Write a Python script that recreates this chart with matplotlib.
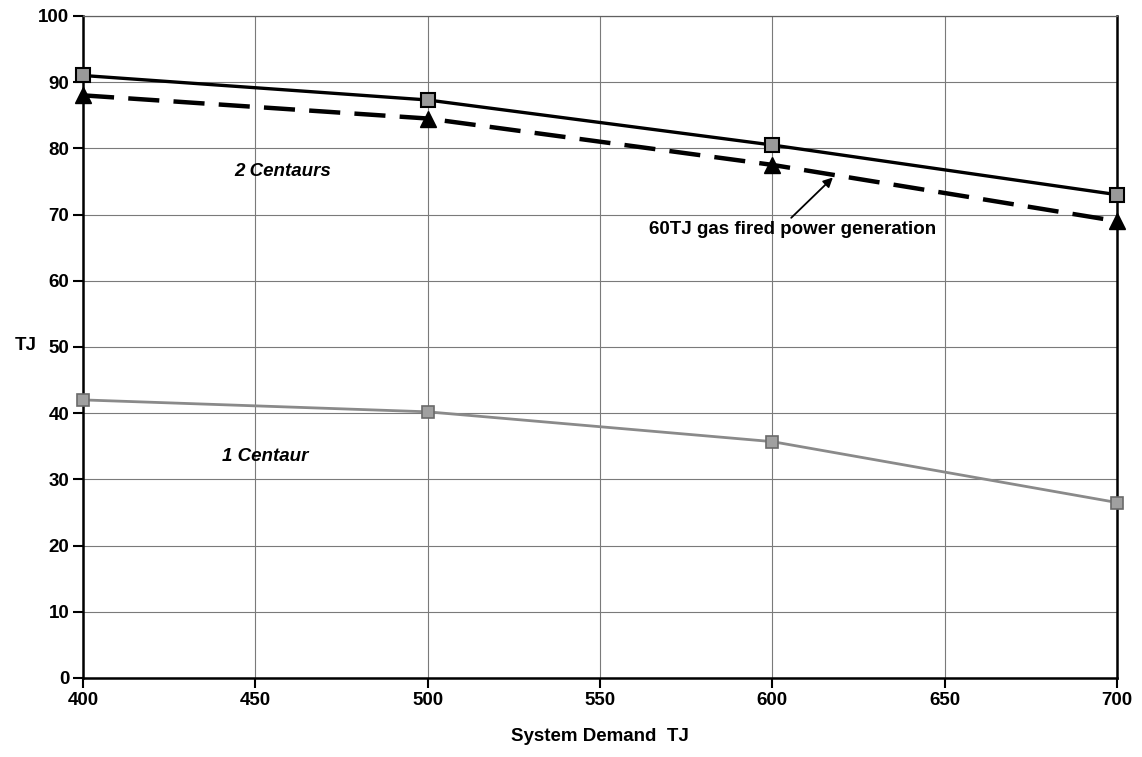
import matplotlib
matplotlib.use("Agg")
import matplotlib.pyplot as plt

demand = [400, 500, 600, 700]
two_centaurs = [91.0, 87.3, 80.5, 73.0]
gas_fired_60tj = [88.0, 84.5, 77.5, 69.0]
one_centaur = [42.0, 40.2, 35.7, 26.5]
x_ticks = [400, 450, 500, 550, 600, 650, 700]
y_ticks = list(range(0, 101, 10))

plt.rcParams['font.family'] = ['Liberation Sans', 'DejaVu Sans']
plt.rcParams['font.weight'] = 'bold'
FS = 13.5

fig = plt.figure(figsize=(11.42, 7.57), dpi=100)
ax = fig.add_axes([0.0727, 0.1044, 0.9053, 0.8746])

ax.plot(demand, two_centaurs, color='black', lw=2.4, marker='s', ms=10,
        mfc='#9a9a9a', mec='black', mew=1.5, clip_on=False, zorder=4)
ax.plot(demand, gas_fired_60tj, color='black', lw=3.2, dashes=(7, 3.2),
        marker='^', ms=11, mfc='black', mec='black', clip_on=False, zorder=4)
ax.plot(demand, one_centaur, color='#8a8a8a', lw=2.0, marker='s', ms=9,
        mfc='#a0a0a0', mec='#6a6a6a', mew=1.2, clip_on=False, zorder=4)

ax.set_xlim(400, 700)
ax.set_ylim(0, 100)
ax.set_xticks(x_ticks)
ax.set_yticks(y_ticks)
ax.grid(True, color='#7a7a7a', lw=0.8)
ax.set_axisbelow(True)

for s in ['left', 'bottom', 'right']:
    ax.spines[s].set_color('black')
    ax.spines[s].set_linewidth(1.8)
ax.spines['top'].set_color('#606060')
ax.spines['top'].set_linewidth(0.9)

ax.tick_params(axis='both', direction='out', length=7, width=1.5,
               labelsize=FS, pad=3)
for lab in ax.get_xticklabels() + ax.get_yticklabels():
    lab.set_fontweight('bold')

ax.set_xlabel('System Demand  TJ', fontsize=FS, fontweight='bold', labelpad=14)
ax.set_ylabel('TJ', fontsize=FS, fontweight='bold', rotation=0)
ax.yaxis.set_label_coords(-0.055, 0.49)

ax.text(458, 76.5, '2 Centaurs', fontsize=FS, fontweight='bold',
        style='italic', ha='center', va='center')
ax.text(453, 33.5, '1 Centaur', fontsize=FS, fontweight='bold',
        style='italic', ha='center', va='center')
ax.text(606, 67.8, '60TJ gas fired power generation', fontsize=FS,
        fontweight='bold', ha='center', va='center')
ax.annotate('', xy=(617.6, 75.6), xytext=(605.5, 69.5),
            arrowprops=dict(arrowstyle='-|>', color='black', lw=1.3,
                            mutation_scale=14, shrinkA=0, shrinkB=0))

fig.savefig('out.png', dpi=100)
